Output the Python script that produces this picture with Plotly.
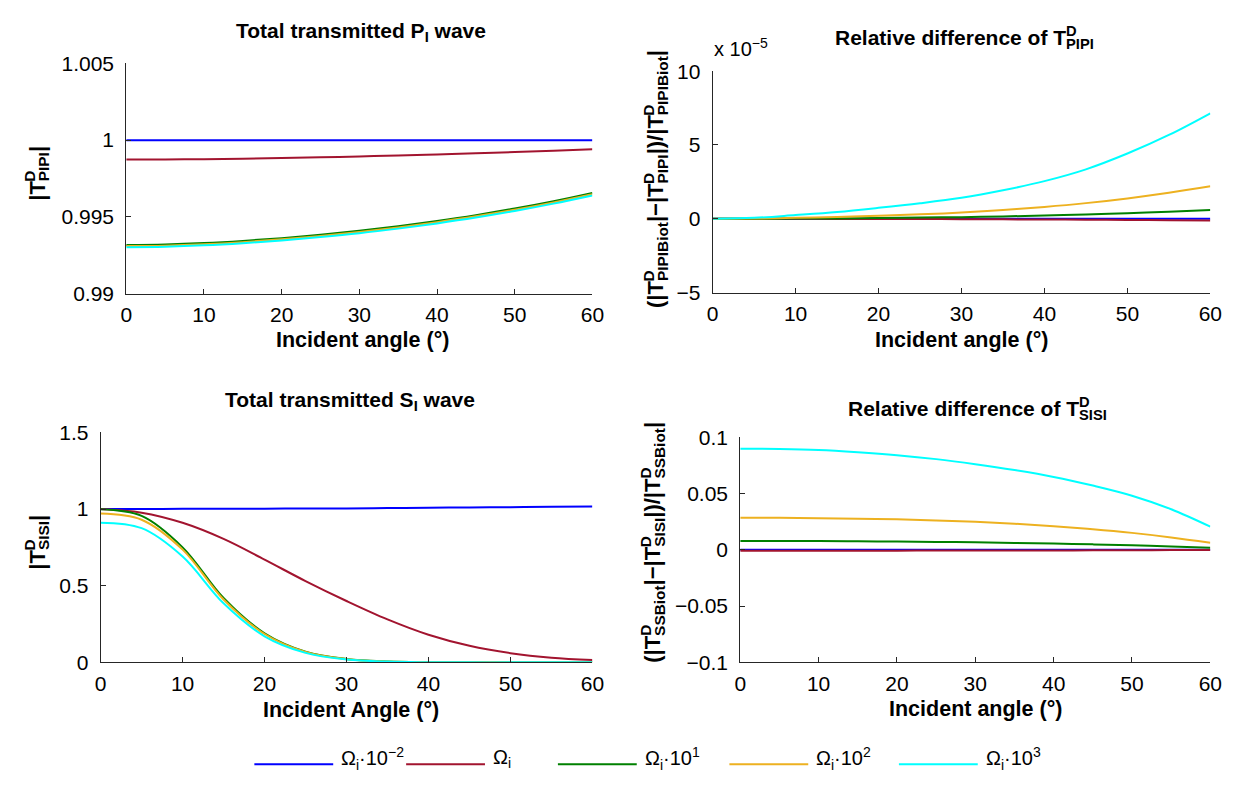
import plotly.graph_objects as go

# Incident angle samples (degrees)
angle = [0, 5, 10, 15, 20, 25, 30, 35, 40, 45, 50, 55, 60]

# Series labels and colours
series_names = ["Ω<sub>i</sub>·10<sup>−2</sup>", "Ω<sub>i</sub>", "Ω<sub>i</sub>·10<sup>1</sup>",
                "Ω<sub>i</sub>·10<sup>2</sup>", "Ω<sub>i</sub>·10<sup>3</sup>"]
series_colors = ["#0000FF", "#A2142F", "#008000", "#EDB120", "#00FFFF"]

# |T^D_PIPI| : total transmitted P_I wave
tpp_m2 = [1.0, 1.0, 1.0, 1.0, 1.0, 1.0, 1.0, 1.0, 1.0, 1.0, 1.0, 1.0, 1.0]
tpp_1 = [0.99873, 0.99874, 0.99876, 0.99879, 0.99883, 0.99888, 0.99894, 0.99900, 0.99907, 0.99914, 0.99922, 0.99931, 0.99941]
tpp_10 = [0.99317, 0.99320, 0.99329, 0.99343, 0.99361, 0.99383, 0.99409, 0.99439, 0.99473, 0.99511, 0.99554, 0.99602, 0.99656]
tpp_100 = [0.99309, 0.99312, 0.99321, 0.99335, 0.99353, 0.99375, 0.99401, 0.99431, 0.99465, 0.99503, 0.99546, 0.99594, 0.99647]
tpp_1000 = [0.99302, 0.99305, 0.99314, 0.99328, 0.99346, 0.99368, 0.99393, 0.99423, 0.99457, 0.99495, 0.99538, 0.99586, 0.99639]

# Relative difference of T^D_PIPI
rpp_m2 = [0, 0, 0, 0, 0, 0, 0, 0, 0, 0, 0, 0, 0]
rpp_1 = [0, 0, -0.005e-5, -0.01e-5, -0.015e-5, -0.02e-5, -0.03e-5, -0.04e-5, -0.05e-5, -0.065e-5, -0.08e-5, -0.095e-5, -0.11e-5]
rpp_10 = [0, 0.003e-5, 0.01e-5, 0.025e-5, 0.05e-5, 0.08e-5, 0.11e-5, 0.16e-5, 0.22e-5, 0.29e-5, 0.38e-5, 0.48e-5, 0.59e-5]
rpp_100 = [0, 0.015e-5, 0.06e-5, 0.12e-5, 0.2e-5, 0.3e-5, 0.42e-5, 0.59e-5, 0.8e-5, 1.06e-5, 1.38e-5, 1.76e-5, 2.2e-5]
rpp_1000 = [0, 0.06e-5, 0.25e-5, 0.46e-5, 0.74e-5, 1.05e-5, 1.42e-5, 1.93e-5, 2.55e-5, 3.35e-5, 4.42e-5, 5.68e-5, 7.15e-5]

# |T^D_SISI| : total transmitted S_I wave
tss_m2 = [1.0, 1.0, 1.001, 1.001, 1.002, 1.003, 1.004, 1.006, 1.008, 1.010, 1.012, 1.014, 1.017]
tss_1 = [1.0, 0.976, 0.91, 0.805, 0.67, 0.53, 0.40, 0.28, 0.18, 0.108, 0.06, 0.03, 0.015]
tss_10 = [0.998, 0.955, 0.75, 0.42, 0.19, 0.07, 0.022, 0.006, 0.0015, 0, 0, 0, 0]
tss_100 = [0.970, 0.93, 0.735, 0.41, 0.185, 0.068, 0.021, 0.006, 0.0015, 0, 0, 0, 0]
tss_1000 = [0.911, 0.875, 0.69, 0.385, 0.17, 0.062, 0.019, 0.005, 0.001, 0, 0, 0, 0]

# Relative difference of T^D_SISI
rss_m2 = [0, 0, 0, 0, 0, 0, 0, 0, 0, 0, 0, 0, 0]
rss_1 = [-0.0008, -0.0008, -0.0008, -0.0008, -0.0008, -0.0007, -0.0007, -0.0006, -0.0006, -0.0005, -0.0004, -0.0003, -0.0002]
rss_10 = [0.0078, 0.0078, 0.0077, 0.0075, 0.0073, 0.0070, 0.0066, 0.0061, 0.0055, 0.0048, 0.0040, 0.0030, 0.0018]
rss_100 = [0.0285, 0.0284, 0.0281, 0.0276, 0.0270, 0.0260, 0.0248, 0.0231, 0.0210, 0.0183, 0.0150, 0.0110, 0.0063]
rss_1000 = [0.0898, 0.0895, 0.0886, 0.0866, 0.0840, 0.0805, 0.0760, 0.0708, 0.0647, 0.0570, 0.0480, 0.0360, 0.0205]

panels = [
    [tpp_m2, tpp_1, tpp_10, tpp_100, tpp_1000],
    [rpp_m2, rpp_1, rpp_10, rpp_100, rpp_1000],
    [tss_m2, tss_1, tss_10, tss_100, tss_1000],
    [rss_m2, rss_1, rss_10, rss_100, rss_1000],
]

W, H = 1246, 785
FONT = "Liberation Sans"
AXC = "#262626"
CLEAR = "rgba(0,0,0,0)"


def px(x):
    return x / W


def py(y):
    return 1 - y / H


# Axes boxes in pixels: (left, right, top, bottom)
boxes = [(122, 595, 53, 290), (717, 1222, 61, 289), (96, 595, 433, 670), (745, 1222, 438, 670)]

fig = go.Figure()
for i, series in enumerate(panels):
    sfx = "" if i == 0 else str(i + 1)
    for ys, name, col in zip(series, series_names, series_colors):
        fig.add_trace(go.Scatter(
            x=angle, y=ys, mode="lines", name=name, showlegend=False,
            line=dict(color=col, width=2, shape="spline", smoothing=1.0),
            xaxis="x" + sfx, yaxis="y" + sfx,
        ))

common = dict(showline=True, linecolor=AXC, linewidth=1, ticks="inside", ticklen=5,
              tickcolor=AXC, showgrid=False, zeroline=False,
              tickfont=dict(family=FONT, size=21, color="black"))

yspecs = [
    dict(range=[0.99, 1.005], tickvals=[0.99, 0.995, 1.0, 1.005], ticktext=["0.99", "0.995", "1", "1.005"]),
    dict(range=[-5e-5, 10e-5], tickvals=[-5e-5, 0, 5e-5, 10e-5], ticktext=["−5", "0", "5", "10"]),
    dict(range=[0, 1.5], tickvals=[0, 0.5, 1.0, 1.5], ticktext=["0", "0.5", "1", "1.5"]),
    dict(range=[-0.1, 0.1], tickvals=[-0.1, -0.05, 0, 0.05, 0.1], ticktext=["−0.1", "−0.05", "0", "0.05", "0.1"]),
]

layout = dict(width=W, height=H, autosize=False, margin=dict(l=0, r=0, t=0, b=0),
              paper_bgcolor="white", plot_bgcolor="white", showlegend=False,
              font=dict(family=FONT, color="black"))
for i, (l, r, t, b) in enumerate(boxes):
    sfx = "" if i == 0 else str(i + 1)
    layout["xaxis" + sfx] = dict(common, domain=[px(l), px(r)], range=[0, 60],
                                 tickvals=[0, 10, 20, 30, 40, 50, 60],
                                 anchor="y" + sfx, ticklabelstandoff=2)
    layout["yaxis" + sfx] = dict(common, domain=[py(b), py(t)], anchor="x" + sfx,
                                 ticklabelstandoff=7, **yspecs[i])
fig.update_layout(**layout)

ann = []


def text(x, y, s, size=20, bold=False, angle=0, xanchor="center", yanchor="middle"):
    ann.append(dict(x=px(x), y=py(y), xref="paper", yref="paper", text=s, showarrow=False,
                    font=dict(family=FONT, size=size, color="black",
                              weight="bold" if bold else "normal"),
                    textangle=angle, xanchor=xanchor, yanchor=yanchor))


def hide(s):
    return "<span style='color:" + CLEAR + "'>" + s + "</span>"


def stacked(parts):
    """Build a label whose symbols carry a superscript stacked over a subscript.

    parts: plain strings or (base, sup, sub) tuples. Returns the main text and one
    overlay per tuple that carries only its superscript, laid out after invisible
    copies of everything before it so it lands right above the subscript.
    """
    main = ""
    hidden_prefix = ""
    overlays = []
    for p in parts:
        if isinstance(p, str):
            main += p
            hidden_prefix += hide(p)
        else:
            base, sup, sub = p
            main += base + "<sub>" + sub + "</sub>"
            overlays.append(hidden_prefix + hide(base) + "<sup>" + sup + "</sup>"
                            + "<sub>" + hide("I") + "</sub>")
            hidden_prefix += hide(base) + "<sub>" + hide(sub) + "</sub>"
    main += "<sup>" + hide("D") + "</sup>"
    return [main] + overlays


def stacked_text(x, y, parts, size, angle=0, xanchor="left", yanchor="middle"):
    for s in stacked(parts):
        text(x, y, s, size=size, bold=True, angle=angle, xanchor=xanchor, yanchor=yanchor)


# Panel titles
text(360, 21, "Total transmitted P<sub>I</sub> wave", size=21, bold=True)
stacked_text(839, 26, ["Relative difference of ", ("T", "D", "PIPI")], size=21)
text(349, 401, "Total transmitted S<sub>I</sub> wave", size=21, bold=True)
stacked_text(852, 408, ["Relative difference of ", ("T", "D", "SISI")], size=21)

# x-axis titles
text(362, 338, "Incident angle (°)", size=21.5, bold=True)
text(970, 338, "Incident angle (°)", size=21.5, bold=True)
text(350, 719, "Incident Angle (°)", size=21.5, bold=True)
text(984, 718, "Incident angle (°)", size=21.5, bold=True)

# y-axis titles (read bottom to top)
stacked_text(31, 197, ["|", ("T", "D", "PIPI"), "|"], size=22, angle=-90,
             xanchor="center", yanchor="bottom")
stacked_text(659, 307, ["(|", ("T", "D", "PIPIBiot"), "|−|", ("T", "D", "PIPI"), "|)/|",
                        ("T", "D", "PIPIBiot"), "|"], size=22, angle=-90,
             xanchor="center", yanchor="bottom")
stacked_text(31, 577, ["|", ("T", "D", "SISI"), "|"], size=22, angle=-90,
             xanchor="center", yanchor="bottom")
stacked_text(656, 673, ["(|", ("T", "D", "SSBiot"), "|−|", ("T", "D", "SISI"), "|)/|",
                        ("T", "D", "SSBiot"), "|"], size=22, angle=-90,
             xanchor="center", yanchor="bottom")

# Exponent multiplier of the upper-right axis
text(716, 37, "x 10<sup>−5</sup>", size=20, xanchor="left")

# Legend row beneath the panels
legend_x0 = [252, 406, 560, 734, 906]
shapes = []
for x0, name, col in zip(legend_x0, series_names, series_colors):
    shapes.append(dict(type="line", xref="paper", yref="paper", x0=px(x0), x1=px(x0 + 80),
                       y0=py(775), y1=py(775), line=dict(color=col, width=2)))
    text(x0 + 86, 769, name, size=20, xanchor="left")

fig.update_layout(annotations=ann, shapes=shapes)
fig.write_html("out.html")
